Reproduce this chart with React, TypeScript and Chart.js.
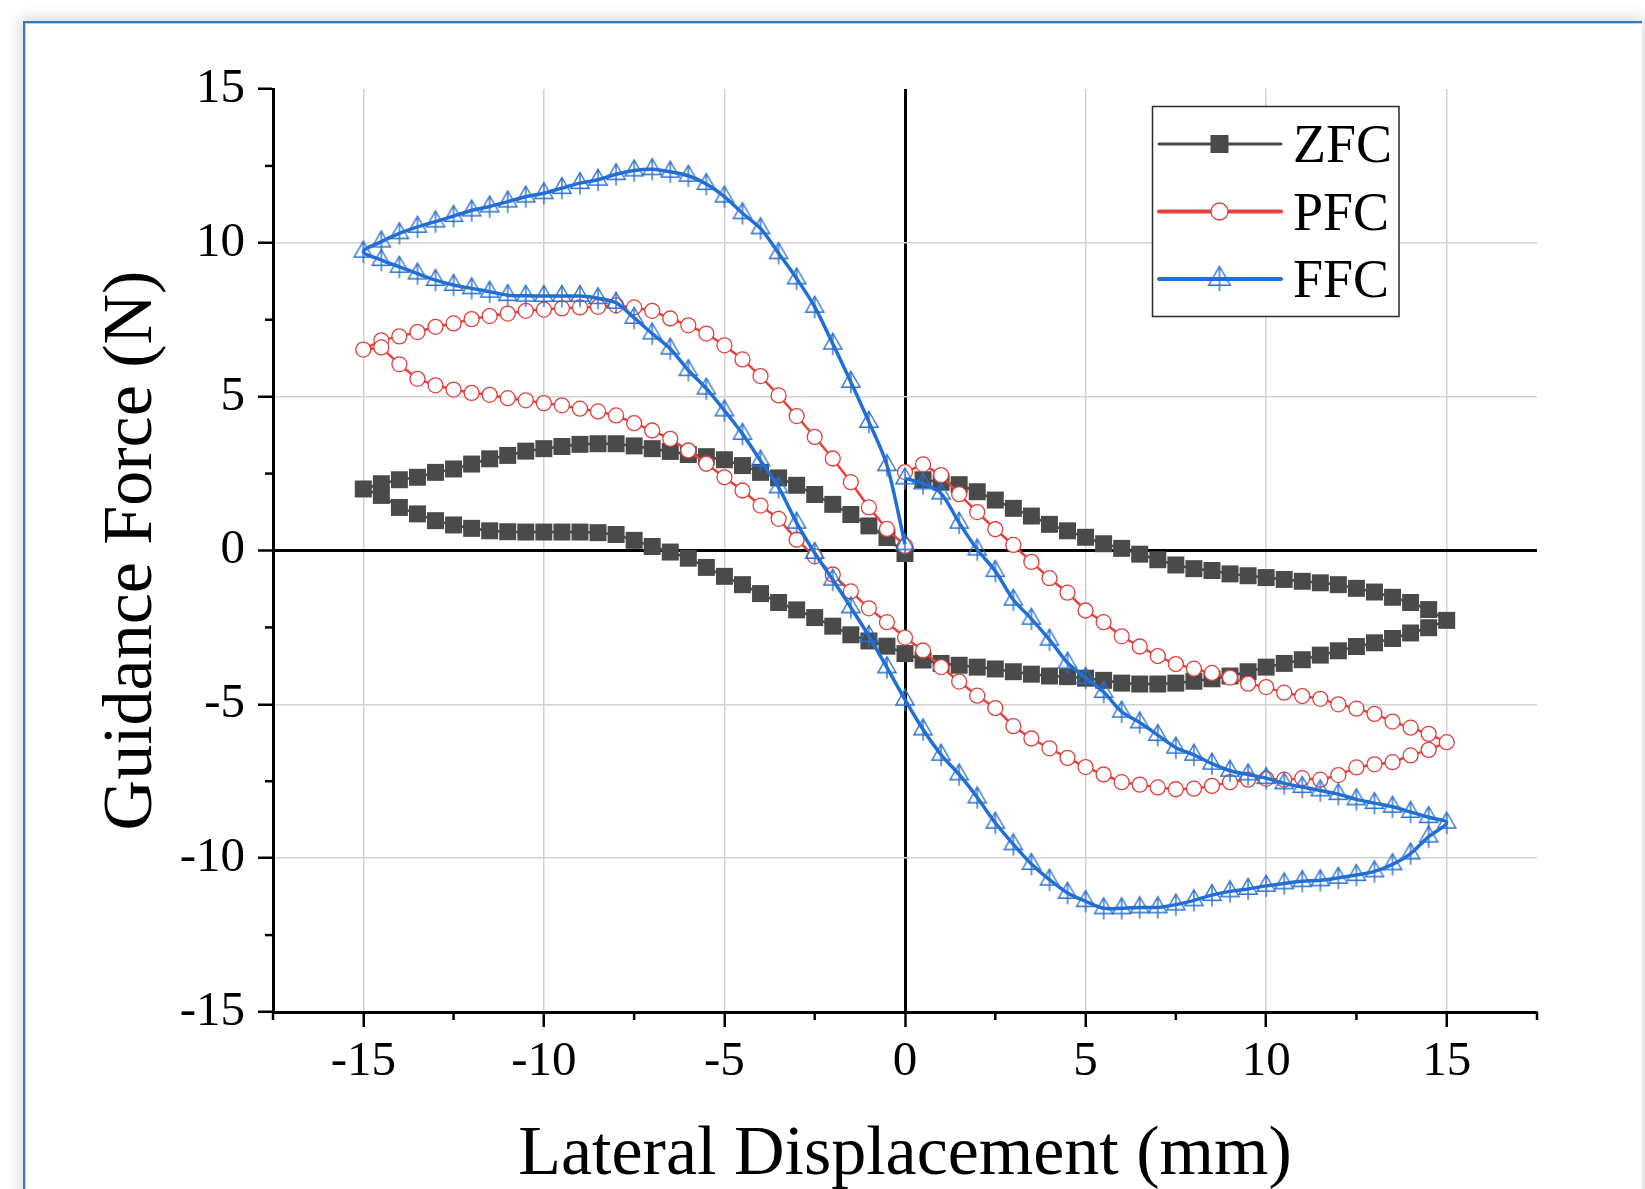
import React, { useEffect, useRef } from 'react';
import { Chart, registerables } from 'chart.js';

Chart.register(...registerables);

// Displacement sequences (mm): outward 0 -> -15, sweep -15 -> 15, return 15 -> 0
const dispOut = [0, -0.5, -1, -1.5, -2, -2.5, -3, -3.5, -4, -4.5, -5, -5.5, -6, -6.5, -7, -7.5, -8, -8.5, -9, -9.5, -10, -10.5, -11, -11.5, -12, -12.5, -13, -13.5, -14, -14.5, -15];
const dispSweep = [-14.5, -14, -13.5, -13, -12.5, -12, -11.5, -11, -10.5, -10, -9.5, -9, -8.5, -8, -7.5, -7, -6.5, -6, -5.5, -5, -4.5, -4, -3.5, -3, -2.5, -2, -1.5, -1, -0.5, 0, 0.5, 1, 1.5, 2, 2.5, 3, 3.5, 4, 4.5, 5, 5.5, 6, 6.5, 7, 7.5, 8, 8.5, 9, 9.5, 10, 10.5, 11, 11.5, 12, 12.5, 13, 13.5, 14, 14.5, 15];
const dispBack = [14.5, 14, 13.5, 13, 12.5, 12, 11.5, 11, 10.5, 10, 9.5, 9, 8.5, 8, 7.5, 7, 6.5, 6, 5.5, 5, 4.5, 4, 3.5, 3, 2.5, 2, 1.5, 1, 0.5, 0];

// ZFC guidance force (N)
const zfcOut = [-0.1, 0.42, 0.8, 1.17, 1.5, 1.82, 2.12, 2.36, 2.54, 2.76, 2.95, 3.05, 3.12, 3.22, 3.31, 3.4, 3.47, 3.47, 3.45, 3.38, 3.31, 3.23, 3.09, 2.98, 2.81, 2.65, 2.54, 2.38, 2.3, 2.17, 2.0];
const zfcSweep = [1.79, 1.4, 1.19, 0.97, 0.83, 0.72, 0.64, 0.61, 0.6, 0.6, 0.6, 0.6, 0.58, 0.52, 0.33, 0.13, -0.05, -0.25, -0.55, -0.84, -1.11, -1.4, -1.69, -1.93, -2.18, -2.46, -2.74, -2.94, -3.11, -3.35, -3.56, -3.67, -3.73, -3.79, -3.85, -3.94, -4.02, -4.08, -4.1, -4.15, -4.22, -4.31, -4.34, -4.34, -4.31, -4.25, -4.17, -4.08, -3.94, -3.79, -3.67, -3.55, -3.4, -3.26, -3.12, -3.0, -2.86, -2.68, -2.51, -2.27];
const zfcBack = [-1.92, -1.69, -1.52, -1.35, -1.23, -1.11, -1.05, -1.0, -0.94, -0.88, -0.82, -0.76, -0.65, -0.59, -0.47, -0.3, -0.12, 0.07, 0.22, 0.43, 0.64, 0.85, 1.12, 1.37, 1.64, 1.91, 2.14, 2.22, 2.3];

// PFC guidance force (N)
const pfcOut = [0.15, 0.7, 1.4, 2.22, 2.99, 3.69, 4.37, 5.04, 5.67, 6.21, 6.67, 7.05, 7.32, 7.54, 7.79, 7.9, 7.97, 7.92, 7.9, 7.87, 7.83, 7.79, 7.7, 7.62, 7.52, 7.38, 7.27, 7.1, 6.96, 6.83, 6.53];
const pfcSweep = [6.6, 6.05, 5.58, 5.37, 5.23, 5.12, 5.06, 4.95, 4.88, 4.79, 4.72, 4.61, 4.52, 4.39, 4.14, 3.9, 3.63, 3.25, 2.82, 2.38, 1.95, 1.46, 1.03, 0.35, -0.19, -0.78, -1.33, -1.88, -2.33, -2.83, -3.25, -3.79, -4.26, -4.72, -5.12, -5.71, -6.11, -6.43, -6.74, -7.04, -7.28, -7.53, -7.61, -7.7, -7.76, -7.74, -7.65, -7.53, -7.45, -7.42, -7.45, -7.4, -7.45, -7.3, -7.05, -6.95, -6.88, -6.66, -6.48, -6.23];
const pfcBack = [-5.96, -5.76, -5.56, -5.31, -5.14, -5.0, -4.82, -4.73, -4.62, -4.44, -4.33, -4.13, -3.98, -3.84, -3.69, -3.43, -3.12, -2.79, -2.33, -1.95, -1.37, -0.9, -0.37, 0.18, 0.69, 1.25, 1.83, 2.45, 2.8, 2.55];

// FFC guidance force (N)
const ffcOut = [0.2, 2.77, 4.18, 5.48, 6.72, 7.92, 8.84, 9.66, 10.47, 10.96, 11.5, 11.91, 12.18, 12.31, 12.39, 12.35, 12.23, 12.05, 11.94, 11.78, 11.61, 11.5, 11.34, 11.18, 11.05, 10.87, 10.69, 10.52, 10.31, 10.04, 9.71];
const ffcSweep = [9.44, 9.22, 9.0, 8.79, 8.63, 8.52, 8.41, 8.3, 8.28, 8.27, 8.27, 8.27, 8.2, 8.05, 7.56, 7.05, 6.56, 5.86, 5.26, 4.55, 3.79, 2.92, 2.05, 0.9, -0.08, -0.95, -1.85, -2.78, -3.8, -4.85, -5.82, -6.64, -7.28, -8.03, -8.85, -9.55, -10.19, -10.7, -11.13, -11.4, -11.63, -11.63, -11.6, -11.6, -11.51, -11.37, -11.2, -11.08, -11.0, -10.9, -10.82, -10.75, -10.72, -10.64, -10.55, -10.43, -10.2, -9.85, -9.3, -8.85];
const ffcBack = [-8.67, -8.5, -8.33, -8.21, -8.09, -7.92, -7.8, -7.69, -7.57, -7.4, -7.28, -7.16, -6.93, -6.64, -6.41, -6.0, -5.59, -5.24, -4.6, -4.14, -3.65, -2.9, -2.22, -1.6, -0.67, 0.03, 0.9, 1.85, 2.18, 2.34];

const seriesNames = ['ZFC', 'PFC', 'FFC'];
const xAxisTitle = 'Lateral Displacement (mm)';
const yAxisTitle = 'Guidance Force (N)';
const xMin = -17.5;
const xMax = 17.5;
const yMin = -15;
const yMax = 15;
const tickStep = 2.5;
const majorStep = 5;

const FONT = "'Liberation Serif', 'Times New Roman', serif";
const ZFC_COLOR = '#4a4a4a';
const PFC_LINE = '#e8413e';
const PFC_MARK = '#e0403c';
const FFC_LINE = '#1f6fd8';
const FFC_MARK = '#2a6fcf';

function buildPoints(xs: number[][], ys: number[][]) {
  const pts: { x: number; y: number }[] = [];
  for (let b = 0; b < xs.length; b++) {
    const n = Math.min(xs[b].length, ys[b].length);
    for (let i = 0; i < n; i++) pts.push({ x: xs[b][i], y: ys[b][i] });
  }
  return pts;
}

function makeTriangle(r: number, color: string) {
  const w = Math.ceil(r * 2.2);
  const h = Math.ceil(r * 3);
  const c = document.createElement('canvas');
  c.width = w;
  c.height = h;
  const g = c.getContext('2d')!;
  const cx = w / 2;
  const cy = h / 2;
  const hw = r * 0.866;
  g.strokeStyle = color;
  g.lineWidth = 1.4;
  g.beginPath();
  g.moveTo(cx, cy - r);
  g.lineTo(cx + hw, cy + r / 2);
  g.lineTo(cx - hw, cy + r / 2);
  g.closePath();
  g.stroke();
  g.beginPath();
  g.moveTo(cx, cy - r);
  g.lineTo(cx, cy + r / 2 + 6);
  g.stroke();
  return c;
}

const isMajor = (v: number) => Math.abs(v % majorStep) < 1e-6;

export default function App() {
  const ref = useRef<HTMLCanvasElement | null>(null);

  useEffect(() => {
    if (!ref.current) return;
    const tri = makeTriangle(10.5, FFC_MARK);
    const triLegend = makeTriangle(12.5, FFC_MARK);

    const minorTicks = {
      id: 'minorTicks',
      afterDraw(chart: any) {
        const { ctx } = chart;
        const xs = chart.scales.x;
        const ys = chart.scales.y;
        ctx.save();
        ctx.strokeStyle = '#000';
        ctx.lineWidth = 2.5;
        xs.ticks.forEach((t: any) => {
          if (isMajor(t.value)) return;
          const px = xs.getPixelForValue(t.value);
          ctx.beginPath();
          ctx.moveTo(px, xs.top);
          ctx.lineTo(px, xs.top + 8);
          ctx.stroke();
        });
        ys.ticks.forEach((t: any) => {
          if (isMajor(t.value)) return;
          const py = ys.getPixelForValue(t.value);
          ctx.beginPath();
          ctx.moveTo(ys.right - 8, py);
          ctx.lineTo(ys.right, py);
          ctx.stroke();
        });
        ctx.restore();
      },
    };

    const boxLegend = {
      id: 'boxLegend',
      afterDatasetsDraw(chart: any) {
        const { ctx } = chart;
        const bx = 1152.5, by = 106.5, bw = 246.5, bh = 210;
        ctx.save();
        ctx.fillStyle = '#fff';
        ctx.fillRect(bx, by, bw, bh);
        ctx.strokeStyle = '#2b2b2b';
        ctx.lineWidth = 1.5;
        ctx.strokeRect(bx, by, bw, bh);
        const rows = [144, 211.5, 279];
        const lw = [3, 4, 4];
        chart.data.datasets.forEach((ds: any, i: number) => {
          const y = rows[i];
          ctx.strokeStyle = ds.borderColor;
          ctx.lineWidth = lw[i];
          ctx.lineCap = 'round';
          ctx.beginPath();
          ctx.moveTo(1159, y);
          ctx.lineTo(1281, y);
          ctx.stroke();
          const mx = 1219.5;
          if (i === 0) {
            ctx.fillStyle = ZFC_COLOR;
            ctx.fillRect(mx - 9, y - 9, 18, 18);
          } else if (i === 1) {
            ctx.beginPath();
            ctx.arc(mx, y, 8.5, 0, Math.PI * 2);
            ctx.fillStyle = '#fff';
            ctx.fill();
            ctx.lineWidth = 1.3;
            ctx.strokeStyle = PFC_MARK;
            ctx.stroke();
          } else {
            ctx.drawImage(triLegend, mx - triLegend.width / 2, y - triLegend.height / 2);
          }
          ctx.fillStyle = '#000';
          ctx.font = `54px ${FONT}`;
          ctx.textBaseline = 'alphabetic';
          ctx.textAlign = 'left';
          ctx.fillText(ds.label, 1293, y + 18);
        });
        ctx.restore();
      },
    };

    const gridColorX = (c: any) => {
      const v = c.tick?.value;
      if (v === undefined) return 'rgba(0,0,0,0)';
      if (Math.abs(v) < 1e-9) return '#000';
      if (isMajor(v) && Math.abs(v) <= 15) return '#d2d2d2';
      return 'rgba(0,0,0,0)';
    };
    const gridColorY = (c: any) => {
      const v = c.tick?.value;
      if (v === undefined) return 'rgba(0,0,0,0)';
      if (Math.abs(v) < 1e-9) return '#000';
      if (isMajor(v) && Math.abs(v) < 15) return '#d2d2d2';
      return 'rgba(0,0,0,0)';
    };
    const gridWidth = (c: any) => (c.tick && Math.abs(c.tick.value) < 1e-9 ? 3 : 1.5);
    const tickColor = (c: any) => (c.tick && isMajor(c.tick.value) ? '#000' : 'rgba(0,0,0,0)');
    const tickLabel = (v: any) => (isMajor(Number(v)) ? String(v) : '');

    const chart = new Chart(ref.current, {
      type: 'scatter',
      data: {
        datasets: [
          {
            label: seriesNames[0],
            data: buildPoints([dispOut, dispSweep, dispBack], [zfcOut, zfcSweep, zfcBack]),
            showLine: true,
            borderColor: ZFC_COLOR,
            borderWidth: 2.5,
            pointStyle: 'rect',
            pointRadius: 12,
            pointBackgroundColor: ZFC_COLOR,
            pointBorderColor: ZFC_COLOR,
            pointBorderWidth: 0,
            tension: 0,
            order: 2,
          },
          {
            label: seriesNames[1],
            data: buildPoints([dispOut, dispSweep, dispBack], [pfcOut, pfcSweep, pfcBack]),
            showLine: true,
            borderColor: PFC_LINE,
            borderWidth: 2.5,
            pointStyle: 'circle',
            pointRadius: 7.5,
            pointBackgroundColor: '#fff',
            pointBorderColor: PFC_MARK,
            pointBorderWidth: 1.3,
            tension: 0,
            order: 1,
          },
          {
            label: seriesNames[2],
            data: buildPoints([dispOut, dispSweep, dispBack], [ffcOut, ffcSweep, ffcBack]),
            showLine: true,
            borderColor: FFC_LINE,
            borderWidth: 3.5,
            pointStyle: tri as any,
            pointRadius: 10,
            tension: 0.3,
            order: 0,
          },
        ] as any,
      },
      options: {
        responsive: false,
        animation: false,
        devicePixelRatio: 1,
        events: [],
        layout: { padding: { left: 0, right: 108, top: 89, bottom: 0 } },
        plugins: { legend: { display: false }, tooltip: { enabled: false } },
        scales: {
          x: {
            type: 'linear',
            min: xMin,
            max: xMax,
            afterFit: (s: any) => {
              s.height = 248;
            },
            ticks: {
              stepSize: tickStep,
              autoSkip: false,
              maxRotation: 0,
              padding: 6,
              color: '#000',
              font: { family: FONT, size: 49 },
              callback: tickLabel,
            },
            grid: {
              color: gridColorX,
              lineWidth: gridWidth,
              drawTicks: true,
              tickLength: 15,
              tickColor,
              tickWidth: 2.5,
            },
            border: { display: true, color: '#000', width: 3 },
            title: {
              display: true,
              text: xAxisTitle,
              color: '#000',
              font: { family: FONT, size: 70, lineHeight: 1 },
              padding: { top: 0, bottom: 69 },
            },
          },
          y: {
            type: 'linear',
            min: yMin,
            max: yMax,
            afterFit: (s: any) => {
              s.width = 273;
            },
            ticks: {
              stepSize: tickStep,
              autoSkip: false,
              padding: 13,
              color: '#000',
              font: { family: FONT, size: 49 },
              callback: tickLabel,
            },
            grid: {
              color: gridColorY,
              lineWidth: gridWidth,
              drawTicks: true,
              tickLength: 15,
              tickColor,
              tickWidth: 2.5,
            },
            border: { display: true, color: '#000', width: 3 },
            title: {
              display: true,
              text: yAxisTitle,
              color: '#000',
              font: { family: FONT, size: 70, lineHeight: 1 },
              padding: { top: 98, bottom: 0 },
            },
          },
        },
      } as any,
      plugins: [minorTicks, boxLegend],
    });
    return () => chart.destroy();
  }, []);

  return (
    <div style={{ position: 'fixed', left: 0, top: 0, width: 1645, height: 1189, overflow: 'hidden', background: '#fff' }}>
      <div
        style={{
          position: 'absolute',
          left: 23,
          top: 20.5,
          width: 1617,
          height: 1400,
          borderTop: '2px solid #2f79c6',
          borderLeft: '2px solid #2f79c6',
          boxShadow: '0 0 14px 3px rgba(0,0,0,0.15), inset 1px 1px 0 #b9d3ee',
          background: '#fff',
        }}
      />
      <canvas ref={ref} width={1645} height={1260} style={{ position: 'absolute', left: 0, top: 0, display: 'block' }} />
    </div>
  );
}
